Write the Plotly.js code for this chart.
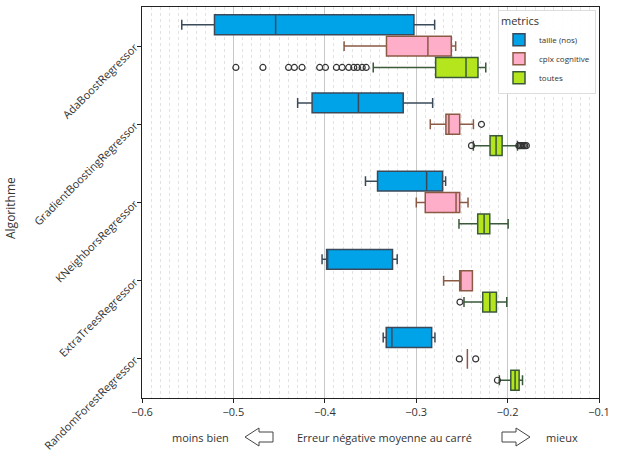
<!DOCTYPE html>
<html><head><meta charset="utf-8">
<script src="https://cdn.plot.ly/plotly-3.0.1.min.js"></script>
<style>html,body{margin:0;padding:0;background:#fff}#c{width:618px;height:461px}</style>
</head><body><div id="c"></div>
<script>
const categories = ["AdaBoostRegressor","GradientBoostingRegressor","KNeighborsRegressor","ExtraTreesRegressor","RandomForestRegressor"];
const seriesNames = ["taille (nos)","cplx cognitive","toutes"];

// taille (nos)
const tailleLow = [-0.5565, -0.4297, -0.3555, -0.4030, -0.3361];
const tailleQ1  = [-0.5207, -0.4139, -0.3423, -0.3980, -0.3328];
const tailleMed = [-0.4538, -0.3632, -0.2886, -0.3970, -0.3266];
const tailleQ3  = [-0.3025, -0.3142, -0.2711, -0.3259, -0.2831];
const tailleUp  = [-0.2798, -0.2820, -0.2678, -0.3208, -0.2795];
const tailleOut = [[], [], [], [], []];

// cplx cognitive
const cplxLow = [-0.3789, -0.2846, -0.2999, -0.2700, -0.2440];
const cplxQ1  = [-0.3325, -0.2675, -0.2901, -0.2524, -0.2440];
const cplxMed = [-0.2872, -0.2642, -0.2564, -0.2510, -0.2440];
const cplxQ3  = [-0.2616, -0.2524, -0.2524, -0.2385, -0.2440];
const cplxUp  = [-0.2568, -0.2374, -0.2433, -0.2385, -0.2440];
const cplxOut = [[], [-0.2286], [], [], [-0.2528, -0.2349]];

// toutes
const toutesLow = [-0.3470, -0.2375, -0.2532, -0.2477, -0.2090];
const toutesQ1  = [-0.2787, -0.2192, -0.2327, -0.2272, -0.1965];
const toutesMed = [-0.2455, -0.2126, -0.2257, -0.2195, -0.1918];
const toutesQ3  = [-0.2324, -0.2060, -0.2195, -0.2122, -0.1874];
const toutesUp  = [-0.2239, -0.1892, -0.1994, -0.2009, -0.1837];
const toutesOut = [
  [-0.4973,-0.4677,-0.4396,-0.4333,-0.4249,-0.4056,-0.3993,-0.3873,-0.3810,-0.3738,-0.3683,-0.3643,-0.3591,-0.3547],
  [-0.2395,-0.1877,-0.1862,-0.1845,-0.1828,-0.1812,-0.1795],
  [],
  [-0.2521],
  [-0.2111]
];

const xTickVals = [-0.6,-0.5,-0.4,-0.3,-0.2,-0.1];

const series = [
  {name: seriesNames[0], lf: tailleLow, q1: tailleQ1, med: tailleMed, q3: tailleQ3, uf: tailleUp, out: tailleOut, fill: '#00A2E8', line: '#3a4a5a'},
  {name: seriesNames[1], lf: cplxLow, q1: cplxQ1, med: cplxMed, q3: cplxQ3, uf: cplxUp, out: cplxOut, fill: '#FFAEC9', line: '#8a5a45'},
  {name: seriesNames[2], lf: toutesLow, q1: toutesQ1, med: toutesMed, q3: toutesQ3, uf: toutesUp, out: toutesOut, fill: '#B5E61D', line: '#3a5a3a'}
];

// Build box traces. Plotly needs the first sample row to be non-empty when
// samples are supplied, so each series is split into: categories with
// outliers (sample rows) and categories without (no samples), sharing one offsetgroup.
const data = [];
series.forEach((s, si) => {
  const withOut = [], without = [];
  categories.forEach((c, i) => (s.out[i].length ? withOut : without).push(i));
  const parts = [{idx: without, samples: false}, {idx: withOut, samples: true}];
  let legendShown = false;
  parts.forEach(p => {
    if (!p.idx.length) return;
    const pick = arr => p.idx.map(i => arr[i]);
    const t = {
      type: 'box', orientation: 'h', name: s.name,
      legendgroup: 'g' + si, offsetgroup: 'o' + si, alignmentgroup: 'a',
      showlegend: !legendShown,
      y: pick(categories),
      q1: pick(s.q1), median: pick(s.med), q3: pick(s.q3),
      lowerfence: pick(s.lf), upperfence: pick(s.uf),
      boxpoints: p.samples ? 'outliers' : false,
      fillcolor: s.fill,
      line: {color: s.line, width: 1.5},
      marker: {symbol: 'circle-open', size: 6, color: '#333', line: {width: 1.2}},
      whiskerwidth: 0.5, hoverinfo: 'skip'
    };
    if (p.samples) t.x = pick(s.out);
    legendShown = true;
    data.push(t);
  });
});

// pixel -> paper helpers (plot area: x 142..599, y 7..398)
const L = 142, R = 599, T = 7, B = 398;
const px = v => (v - L) / (R - L);
const py = v => (B - v) / (B - T);
function arrowPath(pts) {
  return 'M ' + pts.map(p => px(p[0]) + ',' + py(p[1])).join(' L ') + ' Z';
}
const leftArrow = arrowPath([[245,437],[259,428],[259,432],[273,432],[273,442],[259,442],[259,446]]);
const rightArrow = arrowPath([[530,437],[516,428],[516,432],[502,432],[502,442],[516,442],[516,446]]);

const fontFam = 'Open Sans, Liberation Sans, sans-serif';
const layout = {
  width: 618, height: 461,
  margin: {l: L, r: 618 - R, t: T, b: 461 - B, pad: 0},
  paper_bgcolor: '#fff', plot_bgcolor: '#fff',
  font: {family: fontFam, color: '#333', size: 11},
  showlegend: true,
  boxmode: 'group', boxgap: 0.18, boxgroupgap: 0.07,
  xaxis: {
    type: 'linear',
    range: [-0.6, -0.1], tickvals: xTickVals, tickformat: '.1f',
    showgrid: true, gridcolor: '#c8c8c8', gridwidth: 1,
    minor: {dtick: 0.01, showgrid: true, gridcolor: '#e2e2e2', griddash: 'dot', gridwidth: 1},
    showline: true, mirror: true, linecolor: '#222', linewidth: 1,
    ticks: 'outside', ticklen: 4, tickcolor: '#222', zeroline: false,
    tickfont: {size: 11, color: '#333'}
  },
  yaxis: {
    type: 'category', categoryorder: 'array', categoryarray: categories,
    range: [4.5, -0.5], tickangle: -45,
    showgrid: false, zeroline: false,
    showline: true, mirror: true, linecolor: '#222', linewidth: 1,
    ticks: 'outside', ticklen: 4, tickcolor: '#222',
    tickfont: {size: 11, color: '#333'}
  },
  legend: {
    x: px(498), y: py(10), xanchor: 'left', yanchor: 'top',
    bgcolor: 'rgba(255,255,255,0.9)', bordercolor: '#dddddd', borderwidth: 1,
    title: {text: 'metrics', font: {size: 11, color: '#333'}},
    font: {size: 8, color: '#333'}, tracegroupgap: 0, itemwidth: 30,
    traceorder: 'normal'
  },
  shapes: [
    {type: 'path', xref: 'paper', yref: 'paper', path: leftArrow, line: {color: '#444', width: 1}, fillcolor: '#fff'},
    {type: 'path', xref: 'paper', yref: 'paper', path: rightArrow, line: {color: '#444', width: 1}, fillcolor: '#fff'}
  ],
  annotations: [
    {text: 'moins bien', xref: 'paper', yref: 'paper', x: px(200), y: py(437), showarrow: false, xanchor: 'center', yanchor: 'middle', font: {size: 11, color: '#333'}},
    {text: 'Erreur négative moyenne au carré', xref: 'paper', yref: 'paper', x: px(384), y: py(437), showarrow: false, xanchor: 'center', yanchor: 'middle', font: {size: 11, color: '#333'}},
    {text: 'mieux', xref: 'paper', yref: 'paper', x: px(562), y: py(437), showarrow: false, xanchor: 'center', yanchor: 'middle', font: {size: 11, color: '#333'}},
    {text: 'Algorithme', xref: 'paper', yref: 'paper', x: px(10), y: py(208), showarrow: false, xanchor: 'center', yanchor: 'middle', textangle: -90, font: {size: 12, color: '#333'}}
  ]
};

Plotly.newPlot('c', data, layout, {displayModeBar: false, staticPlot: true});
</script></body></html>
